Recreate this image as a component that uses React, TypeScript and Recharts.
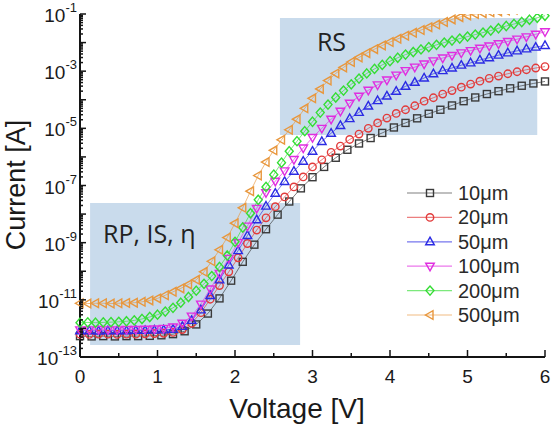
import { Line, LineChart, ReferenceArea, XAxis, YAxis } from "recharts";

const LEGEND_LABELS = ["10μm", "20μm", "50μm", "100μm", "200μm", "500μm"];
const SERIES_COLORS = ["#3a3a3a", "#e23b3b", "#2b2be3", "#e02ee0", "#35dd35", "#e8973d"];
const SERIES_SHAPES = ["square", "circle", "up", "down", "diamond", "left"];
// voltage step of each sweep, starting at 0 V
const SWEEP_STEPS = [0.15, 0.12, 0.12, 0.12, 0.1, 0.1];

// log10 of the current [A] at each sweep step
const logI10 = [
  -12.27, -12.28, -12.27, -12.28, -12.27, -12.27, -12.26, -12.24, -12.2, -12.1,
  -11.86, -11.48, -10.95, -10.33, -9.67, -9.07, -8.53, -8.02, -7.56, -7.1,
  -6.71, -6.35, -6.03, -5.75, -5.53, -5.34, -5.16, -4.97, -4.81, -4.65,
  -4.49, -4.35, -4.2, -4.05, -3.92, -3.8, -3.7, -3.6, -3.51, -3.43,
  -3.36,
];
const logI20 = [
  -12.2, -12.21, -12.2, -12.2, -12.21, -12.2, -12.2, -12.19, -12.18, -12.17,
  -12.14, -12.04, -11.82, -11.45, -10.98, -10.5, -10.02, -9.53, -9.03, -8.56,
  -8.13, -7.74, -7.4, -7.05, -6.7, -6.35, -6.1, -5.84, -5.62, -5.39,
  -5.2, -5.0, -4.81, -4.64, -4.48, -4.35, -4.21, -4.05, -3.93, -3.8,
  -3.68, -3.56, -3.45, -3.35, -3.25, -3.17, -3.09, -3.02, -2.95, -2.89,
  -2.84,
];
const logI50 = [
  -12.08, -12.08, -12.09, -12.08, -12.08, -12.08, -12.07, -12.07, -12.06, -12.05,
  -12.03, -11.93, -11.72, -11.35, -10.85, -10.3, -9.78, -9.28, -8.75, -8.2,
  -7.72, -7.27, -6.86, -6.5, -6.15, -5.8, -5.46, -5.17, -4.9, -4.66,
  -4.44, -4.22, -4.03, -3.87, -3.7, -3.53, -3.39, -3.24, -3.09, -2.98,
  -2.89, -2.79, -2.71, -2.61, -2.53, -2.44, -2.36, -2.29, -2.22, -2.16,
  -2.1,
];
const logI100 = [
  -12.05, -12.05, -12.04, -12.05, -12.05, -12.04, -12.04, -12.03, -12.02, -12.0,
  -11.95, -11.82, -11.57, -11.15, -10.62, -10.08, -9.55, -9.0, -8.42, -7.8,
  -7.25, -6.85, -6.49, -6.09, -5.69, -5.32, -5.0, -4.68, -4.4, -4.12,
  -3.88, -3.67, -3.48, -3.31, -3.14, -2.98, -2.86, -2.75, -2.64, -2.54,
  -2.45, -2.36, -2.28, -2.2, -2.12, -2.04, -1.96, -1.88, -1.8, -1.71,
  -1.62,
];
const logI200 = [
  -11.8, -11.79, -11.8, -11.79, -11.78, -11.77, -11.75, -11.72, -11.67, -11.6,
  -11.52, -11.41, -11.28, -11.1, -10.9, -10.68, -10.44, -10.17, -9.85, -9.45,
  -8.97, -8.47, -7.97, -7.5, -7.05, -6.62, -6.2, -5.8, -5.45, -5.1,
  -4.77, -4.45, -4.17, -3.92, -3.68, -3.46, -3.26, -3.08, -2.92, -2.78,
  -2.65, -2.53, -2.42, -2.33, -2.24, -2.16, -2.08, -2.0, -1.93, -1.86,
  -1.79, -1.72, -1.65, -1.58, -1.5, -1.42, -1.35, -1.28, -1.2, -1.13,
  -1.06,
];
const logI500 = [
  -11.12, -11.13, -11.12, -11.12, -11.13, -11.12, -11.11, -11.1, -11.07, -11.02,
  -10.95, -10.84, -10.72, -10.6, -10.46, -10.3, -10.02, -9.65, -9.25, -8.82,
  -8.32, -7.78, -7.2, -6.65, -6.18, -5.77, -5.4, -5.05, -4.68, -4.3,
  -3.95, -3.62, -3.33, -3.08, -2.87, -2.68, -2.52, -2.37, -2.23, -2.1,
  -1.98, -1.87, -1.76, -1.66, -1.56, -1.46, -1.37, -1.28, -1.19, -1.11,
  -1.05, -1.0, -0.97, -0.94, -0.91, -0.88, -0.85, -0.82, -0.79, -0.76,
  -0.73,
];
const LOG_CURRENTS = [logI10, logI20, logI50, logI100, logI200, logI500];

const X_TICKS = [0, 0.5, 1, 1.5, 2, 2.5, 3, 3.5, 4, 4.5, 5, 5.5, 6];
const Y_LABEL_EXPONENTS = [-13, -11, -9, -7, -5, -3, -1];

// shaded fitting regions (V, A)
const LOW_REGION = { x1: 0.13, x2: 2.84, y1: 2.63e-13, y2: 2.45e-8, label: "RP, IS, η" };
const HIGH_REGION = { x1: 2.58, x2: 5.9, y1: 5.9e-6, y2: 7.24e-2, label: "RS" };

const FONT = "'Liberation Sans', Arial, sans-serif";
const AXIS = "#141414";

// decade ticks plus 2..9 minor ticks
const Y_TICKS: number[] = [];
for (let e = -13; e <= -1; e++) {
  Y_TICKS.push(Number(`1e${e}`));
  if (e < -1) for (let m = 2; m <= 9; m++) Y_TICKS.push(Number(`${m}e${e}`));
}

const series = LOG_CURRENTS.map((logs, s) => ({
  name: LEGEND_LABELS[s],
  color: SERIES_COLORS[s],
  shape: SERIES_SHAPES[s],
  data: logs.map((e, i) => ({ v: +(i * SWEEP_STEPS[s]).toFixed(2), i: Math.pow(10, e) })),
}));

function Marker({ shape, x, y, color }: { shape: string; x: number; y: number; color: string }) {
  const common = { fill: "none", stroke: color, strokeWidth: 1.4 };
  switch (shape) {
    case "square":
      return <rect x={x - 3.5} y={y - 3.5} width={7} height={7} {...common} />;
    case "circle":
      return <circle cx={x} cy={y} r={3.7} {...common} />;
    case "up":
      return <polygon points={`${x},${y - 4.6} ${x + 4.3},${y + 3} ${x - 4.3},${y + 3}`} {...common} />;
    case "down":
      return <polygon points={`${x},${y + 4.6} ${x + 4.3},${y - 3} ${x - 4.3},${y - 3}`} {...common} />;
    case "diamond":
      return <polygon points={`${x},${y - 4.6} ${x + 4},${y} ${x},${y + 4.6} ${x - 4},${y}`} {...common} />;
    default:
      return <polygon points={`${x - 4.6},${y} ${x + 3},${y - 4.3} ${x + 3},${y + 4.3}`} {...common} />;
  }
}

const dotFor = (shape: string, color: string) => (props: any) => {
  const { cx, cy, index } = props;
  if (cx == null || cy == null) return <g key={index} />;
  return <Marker key={index} shape={shape} x={cx} y={cy} color={color} />;
};

const isMajor = (v: number) => {
  const exp = Math.floor(Math.log10(v) + 1e-9);
  return { exp, major: Math.round(v / Math.pow(10, exp)) === 1 };
};

const LeftTick = ({ x, y, payload }: any) => {
  const { exp, major } = isMajor(payload.value);
  return (
    <g>
      <line x1={x} x2={x + (major ? 6 : 3)} y1={y} y2={y} stroke={AXIS} strokeWidth={1.5} />
      {major && Y_LABEL_EXPONENTS.includes(exp) && (
        <text x={x - 3} y={y + 8} textAnchor="end" fontSize={19} fill="#1a1a1a" fontFamily={FONT}>
          10
          <tspan dy={-10} fontSize={13}>
            {exp}
          </tspan>
        </text>
      )}
    </g>
  );
};

const RightTick = ({ x, y, payload }: any) => {
  const { major } = isMajor(payload.value);
  return <line x1={x} x2={x - (major ? 6 : 3)} y1={y} y2={y} stroke={AXIS} strokeWidth={1.5} />;
};

const BottomTick = ({ x, y, payload }: any) => {
  const major = Number.isInteger(payload.value);
  return (
    <g>
      <line x1={x} x2={x} y1={y} y2={y - (major ? 7 : 4)} stroke={AXIS} strokeWidth={1.5} />
      {major && (
        <text x={x} y={y + 26} textAnchor="middle" fontSize={19} fill="#1a1a1a" fontFamily={FONT}>
          {payload.value}
        </text>
      )}
    </g>
  );
};

const TopTick = ({ x, y, payload }: any) => {
  const major = Number.isInteger(payload.value);
  return <line x1={x} x2={x} y1={y} y2={y + (major ? 7 : 4)} stroke={AXIS} strokeWidth={1.5} />;
};

const regionLabel = (text: string, dx: number, dy: number) => (props: any) => {
  const { x, y } = props.viewBox;
  return (
    <text x={x + dx} y={y + dy} fontSize={25} fill="#222" fontFamily="'Open Sans', sans-serif">
      {text}
    </text>
  );
};

export default function App() {
  return (
    <div style={{ position: "absolute", left: 0, top: 0, width: 552, height: 432, background: "#fff" }}>
      <LineChart width={552} height={432} margin={{ top: 14, right: 7, left: 0, bottom: 0 }}>
        <XAxis
          dataKey="v"
          type="number"
          domain={[0, 6]}
          ticks={X_TICKS}
          interval={0}
          height={75}
          tickSize={0}
          tickMargin={0}
          tick={BottomTick}
          axisLine={{ stroke: AXIS, strokeWidth: 2 }}
        />
        <XAxis
          xAxisId="t"
          orientation="top"
          type="number"
          domain={[0, 6]}
          ticks={X_TICKS}
          interval={0}
          height={0}
          tickSize={0}
          tickMargin={0}
          tick={TopTick}
          axisLine={{ stroke: AXIS, strokeWidth: 2 }}
        />
        <YAxis
          type="number"
          scale="log"
          domain={[1e-13, 1e-1]}
          allowDataOverflow
          ticks={Y_TICKS}
          interval={0}
          width={80}
          tickSize={0}
          tickMargin={0}
          tick={LeftTick}
          axisLine={{ stroke: AXIS, strokeWidth: 2 }}
        />
        <YAxis
          yAxisId="r"
          orientation="right"
          type="number"
          scale="log"
          domain={[1e-13, 1e-1]}
          allowDataOverflow
          ticks={Y_TICKS}
          interval={0}
          width={0}
          tickSize={0}
          tickMargin={0}
          tick={RightTick}
          axisLine={{ stroke: AXIS, strokeWidth: 2 }}
        />
        {[LOW_REGION, HIGH_REGION].map((r, k) => (
          <ReferenceArea
            key={r.label}
            x1={r.x1}
            x2={r.x2}
            y1={r.y1}
            y2={r.y2}
            fill="#c9dbec"
            fillOpacity={1}
            stroke="none"
            label={k === 0 ? regionLabel(r.label, 13, 40) : regionLabel(r.label, 37, 33)}
          />
        ))}
        {series.map((s) => (
          <Line
            key={s.name}
            data={s.data}
            dataKey="i"
            name={s.name}
            stroke={s.color}
            strokeOpacity={0.65}
            strokeWidth={1}
            dot={dotFor(s.shape, s.color)}
            activeDot={false}
            isAnimationActive={false}
          />
        ))}
      </LineChart>
      <svg
        width={552}
        height={432}
        style={{ position: "absolute", left: 0, top: 0, pointerEvents: "none" }}
      >
        <text
          transform="translate(25,185) rotate(-90)"
          textAnchor="middle"
          fontSize={27}
          fill="#1a1a1a"
          fontFamily={FONT}
        >
          Current [A]
        </text>
        <text x={297} y={418} textAnchor="middle" fontSize={28} fill="#1a1a1a" fontFamily={FONT}>
          Voltage [V]
        </text>
        {series.map((s, k) => {
          const y = 193 + k * 24.4;
          return (
            <g key={s.name}>
              <line x1={407} x2={452} y1={y} y2={y} stroke={s.color} strokeOpacity={0.65} strokeWidth={1.2} />
              <Marker shape={s.shape} x={430} y={y} color={s.color} />
              <text x={458} y={y + 7} fontSize={20} fill="#2a2a2a" fontFamily={FONT}>
                {s.name}
              </text>
            </g>
          );
        })}
      </svg>
    </div>
  );
}
